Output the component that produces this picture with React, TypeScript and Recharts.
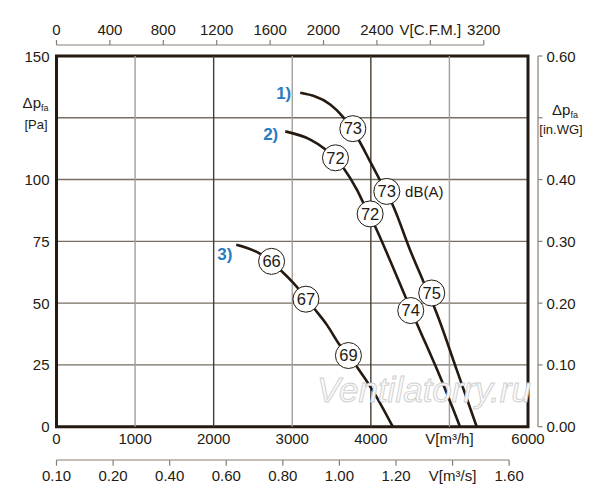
import React from "react";
import {
  ComposedChart,
  Line,
  Scatter,
  XAxis,
  YAxis,
  CartesianGrid,
  ReferenceLine,
  ReferenceArea,
  ReferenceDot,
} from "recharts";

// fan curves, V[m3/h] vs dp_fa [Pa]
const curve1 = [
  { x: 3102, y: 135.1 },
  { x: 3483, y: 130.4 },
  { x: 3631, y: 125.9 },
  { x: 3842, y: 116.2 },
  { x: 3991, y: 107.3 },
  { x: 4140, y: 98.3 },
  { x: 4287, y: 89.1 },
  { x: 4499, y: 71.5 },
  { x: 4668, y: 58.8 },
  { x: 4838, y: 45.9 },
  { x: 5093, y: 23.0 },
  { x: 5347, y: 0 },
];
const curve2 = [
  { x: 2911, y: 119.5 },
  { x: 3229, y: 116.2 },
  { x: 3398, y: 112.8 },
  { x: 3652, y: 104.7 },
  { x: 3822, y: 95.9 },
  { x: 3906, y: 90.5 },
  { x: 4055, y: 81.0 },
  { x: 4223, y: 68.9 },
  { x: 4457, y: 51.3 },
  { x: 4584, y: 41.9 },
  { x: 4880, y: 20.3 },
  { x: 5135, y: 0 },
];
const curve3 = [
  { x: 2288, y: 73.6 },
  { x: 2572, y: 70.3 },
  { x: 2869, y: 62.8 },
  { x: 3016, y: 58.1 },
  { x: 3292, y: 47.3 },
  { x: 3441, y: 41.2 },
  { x: 3588, y: 33.8 },
  { x: 3822, y: 24.3 },
  { x: 4033, y: 14.2 },
  { x: 4279, y: 0 },
];

// noise level markers dB(A)
const marks1 = [
  { x: 3771, y: 120.6, db: 73 },
  { x: 4203, y: 95.2, db: 73 },
  { x: 4775, y: 54.1, db: 75 },
];
const marks2 = [
  { x: 3550, y: 108.8, db: 72 },
  { x: 3991, y: 86.1, db: 72 },
  { x: 4508, y: 47.0, db: 74 },
];
const marks3 = [
  { x: 2737, y: 66.9, db: 66 },
  { x: 3174, y: 51.6, db: 67 },
  { x: 3715, y: 28.8, db: 69 },
];
const curveNames = ["1)", "2)", "3)"];

const flowTicks = [0, 1000, 2000, 3000, 4000, 5000, 6000];
const cfmTicks = [0, 400, 800, 1200, 1600, 2000, 2400, 2800, 3200];
const m3sTicks = [0, 0.2, 0.4, 0.6, 0.8, 1.0, 1.2, 1.4, 1.6];
const paTicks = [0, 25, 50, 75, 100, 125, 150];
const wgTicks = [0, 0.1, 0.2, 0.3, 0.4, 0.5, 0.6];
const gridX = [1000, 2000, 3000, 4000, 5000];

const M3H_PER_CFM = 1.699;
const M3H_PER_M3S = 3600;

const FONT = '"Liberation Sans", Arial, sans-serif';
const INK = "#241a11";
const AXIS = "#877f74";
const BLUE = "#2b7bc0";

const txt = { fontFamily: FONT, fontSize: 15, fill: INK };

// same curve in the units of the secondary axes (invisible, only feeds the axis)
const curve1Cfm = curve1.map((p) => ({ x: p.x / M3H_PER_CFM, y: p.y }));
const curve1M3s = curve1.map((p) => ({ x: p.x / M3H_PER_M3S, y: p.y }));

const LeftTick = (props: any) => {
  const { x, y, payload } = props;
  if (payload.value === 125) {
    return (
      <g>
        <text x={x - 8} y={y - 9.5} textAnchor="end" {...txt}>
          Δp<tspan fontSize={9} dy={3}>fa</tspan>
        </text>
        <text x={x - 9} y={y + 11} textAnchor="end" {...txt} fontSize={13}>
          [Pa]
        </text>
      </g>
    );
  }
  return (
    <text x={x - 7} y={y + 5.5} textAnchor="end" {...txt}>
      {payload.value}
    </text>
  );
};

const rightPrev = { v: 0 };
const RightTick = (props: any) => {
  const { x, y, payload, index } = props;
  const lx = x + 10;
  const py = index === 0 ? y : rightPrev.v;
  rightPrev.v = y;
  const isName = Math.abs(payload.value - 0.5) < 1e-9;
  return (
    <g>
      <line x1={lx} y1={py} x2={lx} y2={y} stroke={AXIS} strokeWidth={1.2} />
      <line x1={lx} y1={y} x2={lx + 4.5} y2={y} stroke={AXIS} strokeWidth={1.2} />
      {isName ? (
        <g>
          <text x={x + 37} y={y - 3} textAnchor="middle" {...txt}>
            Δp<tspan fontSize={9} dy={3}>fa</tspan>
          </text>
          <text x={x + 33} y={y + 16} textAnchor="middle" {...txt} fontSize={13}>
            [in.WG]
          </text>
        </g>
      ) : (
        <text x={x + 18.5} y={y + 5.5} textAnchor="start" {...txt}>
          {payload.value.toFixed(2)}
        </text>
      )}
    </g>
  );
};

const topPrev = { v: 0 };
const TopTick = (props: any) => {
  const { x, y, payload, index } = props;
  const ly = y - 11;
  const px = index === 0 ? x : topPrev.v;
  topPrev.v = x;
  const label = payload.value === 2800 ? "V[C.F.M.]" : String(payload.value);
  return (
    <g>
      <line x1={px} y1={ly} x2={x} y2={ly} stroke={AXIS} strokeWidth={1.2} />
      <line x1={x} y1={ly} x2={x} y2={ly - 5} stroke={AXIS} strokeWidth={1.2} />
      <text x={x} y={y - 20.6} textAnchor="middle" {...txt}>
        {label}
      </text>
    </g>
  );
};

const FlowTick = (props: any) => {
  const { x, y, payload } = props;
  const label = payload.value === 5000 ? "V[m³/h]" : String(payload.value);
  return (
    <text x={x} y={y + 17.7} textAnchor="middle" {...txt}>
      {label}
    </text>
  );
};

const bottomPrev = { v: 0 };
const M3sTick = (props: any) => {
  const { x, y, payload, index } = props;
  const px = index === 0 ? x : bottomPrev.v;
  bottomPrev.v = x;
  const v = payload.value;
  let label = v.toFixed(2);
  if (v === 0) label = "0.10";
  if (Math.abs(v - 1.4) < 1e-9) label = "V[m³/s]";
  return (
    <g>
      <line x1={px} y1={y} x2={x} y2={y} stroke={AXIS} strokeWidth={1.2} />
      <line x1={x} y1={y} x2={x} y2={y + 5.7} stroke={AXIS} strokeWidth={1.2} />
      <text x={x} y={y + 21.4} textAnchor="middle" {...txt}>
        {label}
      </text>
    </g>
  );
};

const DbMark = (props: any) => {
  const { cx, cy, payload } = props;
  return (
    <g>
      <circle cx={cx} cy={cy} r={13} fill="#ffffff" stroke={INK} strokeWidth={1} />
      <text x={cx} y={cy + 5.8} textAnchor="middle" {...txt} fontSize={16.5}>
        {payload.db}
      </text>
    </g>
  );
};

const allMarks = [...marks1, ...marks2, ...marks3];
const curves = [curve1, curve2, curve3];
const nameOffsets = [
  { dx: -9, dy: 0 },
  { dx: -7, dy: 2.3 },
  { dx: -4, dy: 9 },
];

export default function App() {
  return (
    <div style={{ width: 592, height: 484 }}>
      <ComposedChart
        width={592}
        height={484}
        margin={{ top: 0, right: 0, bottom: 0, left: 0 }}
      >
        <XAxis
          xAxisId="h"
          dataKey="x"
          type="number"
          domain={[0, 6000]}
          ticks={flowTicks}
          interval={0}
          orientation="bottom"
          height={33.3}
          axisLine={false}
          tickLine={false}
          tickSize={0}
          tickMargin={0}
          tick={FlowTick}
          allowDataOverflow
        />
        <XAxis
          xAxisId="s"
          dataKey="x"
          type="number"
          domain={[0, 6000 / M3H_PER_M3S]}
          ticks={m3sTicks}
          interval={0}
          orientation="bottom"
          height={32}
          axisLine={false}
          tickLine={false}
          tickSize={0}
          tickMargin={0}
          tick={M3sTick}
          allowDataOverflow
        />
        <XAxis
          xAxisId="c"
          dataKey="x"
          type="number"
          domain={[0, 6000 / M3H_PER_CFM]}
          ticks={cfmTicks}
          interval={0}
          orientation="top"
          height={48}
          axisLine={false}
          tickLine={false}
          tickSize={0}
          tickMargin={0}
          tick={TopTick}
          allowDataOverflow
        />
        <YAxis
          yAxisId="pa"
          dataKey="y"
          type="number"
          domain={[0, 150]}
          ticks={paTicks}
          interval={0}
          width={48.5}
          axisLine={false}
          tickLine={false}
          tickSize={0}
          tickMargin={0}
          tick={LeftTick}
          allowDataOverflow
        />
        <YAxis
          yAxisId="wg"
          type="number"
          orientation="right"
          domain={[0, 0.6]}
          ticks={wgTicks}
          interval={0}
          width={72}
          axisLine={false}
          tickLine={false}
          tickSize={0}
          tickMargin={0}
          tick={RightTick}
          allowDataOverflow
        />

        <ReferenceDot
          xAxisId="h"
          yAxisId="pa"
          x={3314}
          y={10.1}
          shape={(p: any) => (
            <text
              x={p.cx}
              y={p.cy}
              fontFamily={FONT}
              fontStyle="italic"
              fontSize={35}
              fill="#fafafa"
              stroke="#cfcfcf"
              strokeWidth={0.9}
            >
              Ventilatorry.ru
            </text>
          )}
        />

        <CartesianGrid
          xAxisId="h"
          yAxisId="pa"
          vertical={false}
          stroke="#766d63"
          strokeWidth={1.4}
        />
        {gridX.map((v) => (
          <ReferenceLine
            key={v}
            xAxisId="h"
            yAxisId="pa"
            x={v}
            stroke={v % 2000 === 0 ? "#463c32" : "#a59f96"}
            strokeWidth={1.4}
          />
        ))}

        <Line
          xAxisId="c"
          yAxisId="pa"
          data={curve1Cfm}
          dataKey="y"
          stroke="none"
          dot={false}
          activeDot={false}
          isAnimationActive={false}
        />
        <Line
          xAxisId="s"
          yAxisId="pa"
          data={curve1M3s}
          dataKey="y"
          stroke="none"
          dot={false}
          activeDot={false}
          isAnimationActive={false}
        />

        {curves.map((c, i) => (
          <Line
            key={i}
            xAxisId="h"
            yAxisId="pa"
            data={c}
            dataKey="y"
            type="monotone"
            stroke={INK}
            strokeWidth={2.6}
            dot={false}
            activeDot={false}
            isAnimationActive={false}
          />
        ))}

        <ReferenceArea
          xAxisId="h"
          yAxisId="pa"
          x1={0}
          x2={6000}
          y1={0}
          y2={150}
          fill="none"
          fillOpacity={0}
          stroke={INK}
          strokeWidth={3}
          strokeOpacity={1}
        />

        <Scatter
          xAxisId="h"
          yAxisId="pa"
          data={allMarks}
          dataKey="y"
          shape={DbMark}
          isAnimationActive={false}
        />

        <ReferenceDot
          xAxisId="h"
          yAxisId="pa"
          x={marks1[1].x}
          y={marks1[1].y}
          shape={(p: any) => (
            <text x={p.cx + 18.3} y={p.cy + 5.5} {...txt}>
              dB(A)
            </text>
          )}
        />

        {curves.map((c, i) => (
          <ReferenceDot
            key={"n" + i}
            xAxisId="h"
            yAxisId="pa"
            x={c[0].x}
            y={c[0].y}
            shape={(p: any) => (
              <text
                x={p.cx + nameOffsets[i].dx}
                y={p.cy + nameOffsets[i].dy + 6}
                textAnchor="end"
                fontFamily={FONT}
                fontWeight="bold"
                fontSize={17}
                fill={BLUE}
              >
                {curveNames[i]}
              </text>
            )}
          />
        ))}
      </ComposedChart>
    </div>
  );
}
